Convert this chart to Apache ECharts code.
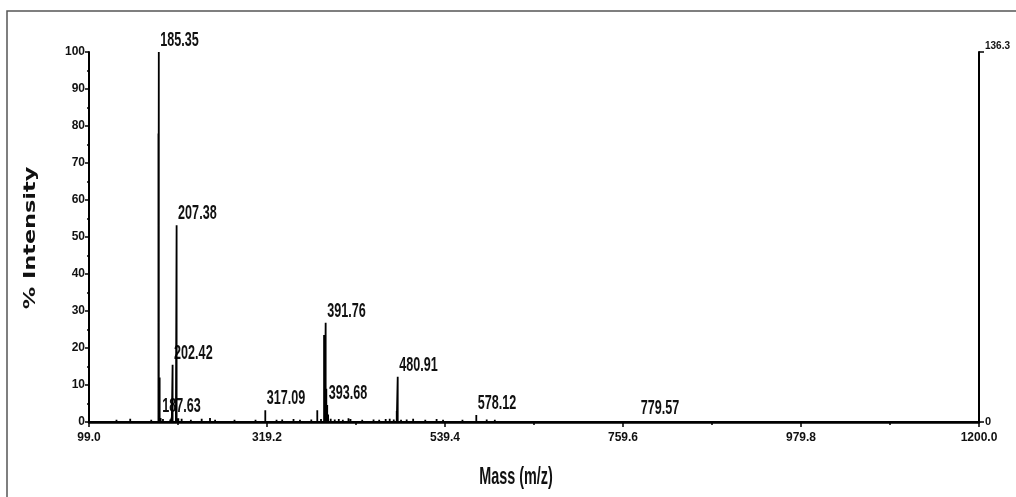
<!DOCTYPE html>
<html>
<head>
<meta charset="utf-8">
<title>Mass spectrum</title>
<script src="https://cdn.jsdelivr.net/npm/echarts@6/dist/echarts.min.js"></script>
<style>
  html, body { margin: 0; padding: 0; background: #fff; }
  #chart { width: 1016px; height: 497px; }
</style>
</head>
<body>
<div id="chart"></div>
<script>
// Annotated peaks: m/z and relative intensity (%)
const labeledMz  = [185.35, 187.63, 202.42, 207.38, 317.09, 391.76, 393.68, 480.91, 578.12, 779.57];
const labeledInt = [100,    1.1,    15.5,   53.2,   3.2,    26.8,   4.6,    12.2,   1.9,    0.5];

// Unannotated peaks, shoulders and baseline noise
const otherMz  = [112, 121, 133, 141, 150, 158, 166, 176, 184.9, 186.4, 190.5, 195, 199.5, 201.4, 206.5, 209.5,
                  213.6, 219, 225, 231, 238.4, 243, 248.7, 255, 262, 270, 279, 288, 296, 305, 312, 323, 331, 338,
                  346, 352, 360, 367, 374, 381.4, 386, 389.8, 390.8, 392.6, 394.8, 398, 403, 408, 413, 420, 422.5,
                  430, 437, 444, 451, 458, 466, 471, 476, 479.7, 485, 492, 500, 507, 515, 522, 529, 537, 545, 553,
                  561, 569, 575, 583, 591, 601, 612, 625, 640, 660, 690, 720, 750, 790, 830, 870, 920, 980, 1040,
                  1100, 1160];
const otherInt = [0.4, 0.3, 0.6, 0.3, 0.9, 0.5, 0.4, 0.6, 78, 12, 0.8, 0.5, 0.7, 1.2, 2.5, 1.0,
                  0.9, 0.5, 0.6, 0.4, 0.9, 0.5, 1.1, 0.6, 0.5, 0.4, 0.6, 0.5, 0.4, 0.6, 0.5, 0.5, 0.6, 0.7,
                  0.5, 0.8, 0.6, 0.5, 0.7, 3.2, 0.8, 23.5, 21, 9, 2, 0.9, 0.7, 0.8, 0.6, 1.0, 0.8,
                  0.5, 0.6, 0.5, 0.7, 0.6, 0.8, 0.9, 0.7, 3.0, 0.6, 0.7, 0.9, 0.5, 0.6, 0.5, 0.8, 0.6, 0.5, 0.4,
                  0.6, 0.5, 0.4, 0.5, 0.7, 0.6, 0.4, 0.3, 0.3, 0.3, 0.2, 0.3, 0.2, 0.3, 0.2, 0.2, 0.3, 0.2, 0.2,
                  0.2, 0.2];

// Axis ticks
const xTicks = [99.0, 319.2, 539.4, 759.6, 979.8, 1200.0];
const yTicks = [0, 10, 20, 30, 40, 50, 60, 70, 80, 90, 100];
const rightTicks = [0, 136.3];

const sans = '"Liberation Sans", Arial, sans-serif';

// Stick spectrum: every peak drawn as a vertical line from the baseline
const sticks = labeledMz.map((m, i) => [m, labeledInt[i]])
  .concat(otherMz.map((m, i) => [m, otherInt[i]]))
  .sort((a, b) => a[0] - b[0]);
const spectrum = [[xTicks[0], 0]];
sticks.forEach(([m, h]) => { spectrum.push([m, 0], [m, h], [m, 0]); });
spectrum.push([xTicks[xTicks.length - 1], 0]);

const chart = echarts.init(document.getElementById('chart'), null, { renderer: 'canvas' });
chart.setOption({
  animation: false,
  backgroundColor: '#fff',
  grid: { left: 89, right: 37, top: 52, bottom: 75, containLabel: false, outerBoundsMode: 'none' },
  graphic: [{
    type: 'rect',
    shape: { x: 7, y: 11, width: 1030, height: 520 },
    style: { fill: 'none', stroke: '#555', lineWidth: 1.5 },
    silent: true
  }, {
    // axis titles, drawn in a tall condensed face
    type: 'text',
    x: 516, y: 477,
    scaleX: 0.6,
    style: { text: 'Mass (m/z)', font: 'bold 24px ' + sans, fill: '#111', align: 'center', verticalAlign: 'middle' },
    silent: true
  }, {
    type: 'text',
    x: 31, y: 238,
    rotation: Math.PI / 2,
    scaleX: 1.4,
    style: { text: '% Intensity', font: 'bold 16px "DejaVu Sans", Verdana, sans-serif', fill: '#111', align: 'center', verticalAlign: 'middle' },
    silent: true
  }],
  xAxis: {
    type: 'value',
    min: xTicks[0],
    max: xTicks[xTicks.length - 1],
    interval: xTicks[1] - xTicks[0],
    axisLine: { show: true, onZero: false, lineStyle: { color: '#000', width: 2.5 } },
    axisTick: { show: true, length: 5, lineStyle: { color: '#000', width: 1.5 } },
    minorTick: { show: true, splitNumber: 2, length: 3, lineStyle: { color: '#000', width: 1.5 } },
    axisLabel: {
      margin: 10, fontFamily: sans, fontSize: 12, fontWeight: 'bold', color: '#111',
      formatter: v => v.toFixed(1)
    },
    splitLine: { show: false }
  },
  yAxis: [{
    type: 'value',
    min: yTicks[0],
    max: yTicks[yTicks.length - 1],
    interval: yTicks[1] - yTicks[0],
    axisLine: { show: true, lineStyle: { color: '#000', width: 2 } },
    axisTick: { show: true, length: 4, lineStyle: { color: '#000', width: 1.5 } },
    minorTick: { show: true, splitNumber: 2, length: 2, lineStyle: { color: '#000', width: 1.5 } },
    axisLabel: { margin: 4, fontFamily: sans, fontSize: 12, fontWeight: 'bold', color: '#111' },
    splitLine: { show: false }
  }, {
    type: 'value',
    position: 'right',
    min: rightTicks[0],
    max: rightTicks[1],
    interval: rightTicks[1] - rightTicks[0],
    axisLine: { show: true, lineStyle: { color: '#000', width: 2 } },
    axisTick: { show: true, length: 5, lineStyle: { color: '#000', width: 1.5 } },
    axisLabel: {
      margin: 6, fontFamily: sans, fontSize: 9, fontWeight: 'bold', color: '#111',
      formatter: v => (v === 0 ? '{z|0}' : '{t|' + v.toFixed(1) + '}'),
      rich: {
        z: { fontFamily: sans, fontSize: 11, fontWeight: 'bold', color: '#111' },
        t: { fontFamily: sans, fontSize: 10, fontWeight: 'bold', color: '#111', padding: [0, 0, 11, 0] }
      }
    },
    splitLine: { show: false }
  }],
  series: [{
    type: 'line',
    z: 3,
    data: spectrum,
    showSymbol: false,
    symbol: 'none',
    sampling: null,
    lineStyle: { color: '#000', width: 1.8 },
    silent: true
  }, {
    // peak annotations, placed at each labelled peak's apex
    type: 'custom',
    z: 2,
    data: labeledMz.map((m, i) => [m, labeledInt[i]]),
    renderItem: (params, api) => {
      const pt = api.coord([api.value(0), api.value(1)]);
      return {
        type: 'text',
        x: pt[0] + 1.5,
        y: pt[1] - 1,
        scaleX: 0.6,
        style: {
          text: api.value(0).toFixed(2),
          font: 'bold 21px ' + sans,
          fill: '#111',
          align: 'left',
          verticalAlign: 'bottom'
        }
      };
    },
    silent: true
  }]
});
</script>
</body>
</html>
